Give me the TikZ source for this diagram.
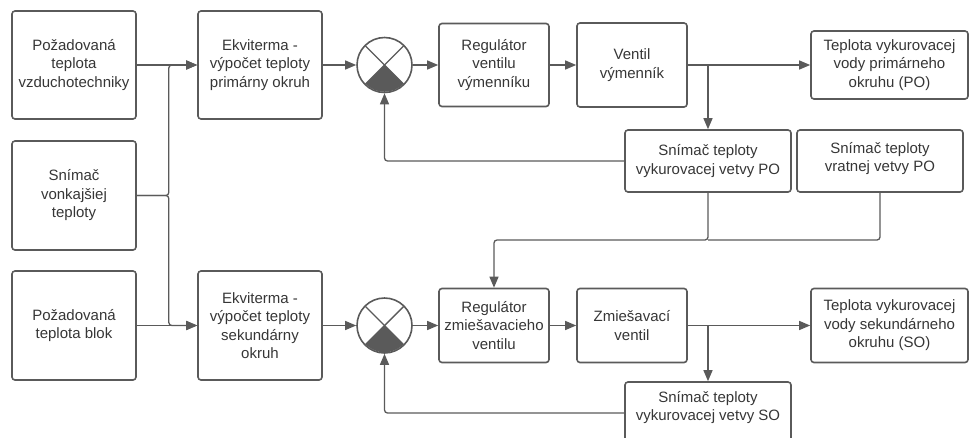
\documentclass[tikz,border=0pt]{standalone}
\usepackage{fontspec}
\setmainfont{Liberation Sans}
\usepackage{xcolor}
\usepackage{tikz}
\usetikzlibrary{arrows.meta,shapes,calc}

\definecolor{linegray}{HTML}{5A5A5A}
\definecolor{textgray}{HTML}{363636}

\begin{document}
\begin{tikzpicture}[x=1pt,y=-1pt]
    \tikzset{block/.style = {shape=rectangle,draw=linegray,line width=1.6pt,rounded corners=3pt,align=center,text=textgray,font=\fontsize{15}{18.5}\selectfont,inner sep=0pt}}
    \tikzset{sumnode/.style = {shape=circle,draw=linegray,line width=1.6pt,minimum size=55,inner sep=0pt}}
    \tikzset{edge/.style = {draw=linegray,line width=1.3pt,rounded corners=3pt,-{Triangle[length=11pt,width=9pt]}}}
    \tikzset{line/.style = {draw=linegray,line width=1.3pt,rounded corners=3pt}}

    \path[use as bounding box,clip] (0,0) rectangle (972,437);

    % vertices
    \node[block,minimum width=124,minimum height=108] (vzt) at (74,65) {Požadovaná\\teplota\\vzduchotechniky};
    \node[block,minimum width=124,minimum height=109] (vonk) at (74,195.5) {Snímač\\vonkajšiej\\teploty};
    \node[block,minimum width=124,minimum height=109] (blok) at (74,325.5) {Požadovaná\\teplota blok};
    \node[block,minimum width=124,minimum height=108] (ekv1) at (260,65) {Ekviterma -\\výpočet teploty\\primárny okruh};
    \node[block,minimum width=124,minimum height=109] (ekv2) at (260,325.5) {Ekviterma -\\výpočet teploty\\sekundárny\\okruh};
    \node[block,minimum width=110,minimum height=83] (reg1) at (494,65) {Regulátor\\ventilu\\výmenníku};
    \node[block,minimum width=110,minimum height=84] (vent1) at (632,65) {Ventil\\výmenník};
    \node[block,minimum width=157,minimum height=68] (tep1) at (889.5,65) {Teplota vykurovacej\\vody primárneho\\okruhu (PO)};
    \node[block,minimum width=166,minimum height=62] (sn1) at (708,161) {Snímač teploty\\vykurovacej vetvy PO};
    \node[block,minimum width=166,minimum height=62] (sn2) at (880,161) {Snímač teploty\\vratnej vetvy PO\\[-10pt]~};
    \node[block,minimum width=110,minimum height=74] (reg2) at (494,325.5) {Regulátor\\zmiešavacieho\\ventilu};
    \node[block,minimum width=110,minimum height=74] (zmies) at (632,325.5) {Zmiešavací\\ventil};
    \node[block,minimum width=157,minimum height=74] (tep2) at (889.5,325.5) {Teplota vykurovacej\\vody sekundárneho\\okruhu (SO)};
    \node[block,minimum width=166,minimum height=62] (sn3) at (708,413) {Snímač teploty\\vykurovacej vetvy SO\\[-4pt]~};

    % summing points
    \foreach \n/\y in {sum1/65,sum2/325.5}
    {
      \node[sumnode] (\n) at (384.5,\y) {};
      \fill[linegray] (\n.center) -- ++(-135:26.8pt) arc[start angle=-135,end angle=-45,radius=26.8pt] -- cycle;
      \draw[linegray,line width=1.4pt] (\n.center) ++(135:26.8pt) -- ++(-45:53.6pt);
      \draw[linegray,line width=1.4pt] (\n.center) ++(45:26.8pt) -- ++(-135:53.6pt);
    }

    % edges
    \foreach \a/\b in {vzt/ekv1,ekv1/sum1,sum1/reg1,reg1/vent1,vent1/tep1,blok/ekv2,ekv2/sum2,sum2/reg2,reg2/zmies,zmies/tep2} {\draw[edge] (\a) to (\b);}
    \foreach \b in {ekv1,ekv2} {\draw[edge] (vonk.east) -- ++(32,0) |- (\b.west);}
    \draw[edge] (sn1.north |- vent1.east) -- (sn1.north);
    \draw[edge] (sn3.north |- zmies.east) -- (sn3.north);
    \draw[edge] (sn1.west) -| (sum1.south);
    \draw[edge] (sn3.west) -| (sum2.south);

    % return branch
    \coordinate (ret) at (708,240);
    \draw[edge] (sn1.south) -- (ret) -| (reg2.north);
    \draw[line] (sn2.south) |- (ret);

  \end{tikzpicture}
\end{document}
